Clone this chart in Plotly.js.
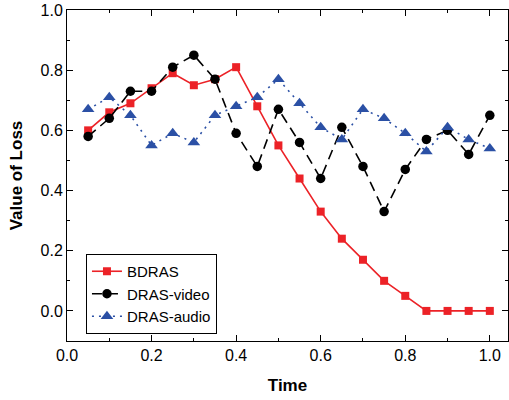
<!DOCTYPE html>
<html>
<head>
<meta charset="utf-8">
<script src="https://cdn.plot.ly/plotly-3.0.1.min.js"></script>
<style>html,body{margin:0;padding:0;background:#fff;}#chart{width:509px;height:400px;}</style>
</head>
<body>
<div id="chart"></div>
<script>
var time = [0.05,0.10,0.15,0.20,0.25,0.30,0.35,0.40,0.45,0.50,0.55,0.60,0.65,0.70,0.75,0.80,0.85,0.90,0.95,1.00];
var bdras = [0.60,0.66,0.69,0.74,0.79,0.75,0.77,0.81,0.68,0.55,0.44,0.33,0.24,0.17,0.10,0.05,0.00,0.00,0.00,0.00];
var drasVideo = [0.58,0.64,0.73,0.73,0.81,0.85,0.77,0.59,0.48,0.67,0.56,0.44,0.61,0.48,0.33,0.47,0.57,0.60,0.52,0.65];
var drasAudio = [0.67,0.71,0.65,0.55,0.59,0.56,0.65,0.68,0.71,0.77,0.69,0.61,0.57,0.67,0.64,0.59,0.53,0.61,0.57,0.54];
var seriesNames = ['BDRAS','DRAS-video','DRAS-audio'];

var traces = [
  {x: time, y: bdras, name: seriesNames[0], type: 'scatter', mode: 'lines+markers',
   line: {color: '#ec2227', width: 1.6, dash: 'solid'},
   marker: {symbol: 'square', size: 8, color: '#ec2227'}},
  {x: time, y: drasVideo, name: seriesNames[1], type: 'scatter', mode: 'lines+markers',
   line: {color: '#000000', width: 1.6, dash: '10px,6px'},
   marker: {symbol: 'circle', size: 9.5, color: '#000000'}},
  {x: time, y: drasAudio, name: seriesNames[2], type: 'scatter', mode: 'lines+markers',
   line: {color: '#2b50a5', width: 1.6, dash: '2px,5px'},
   marker: {symbol: 'triangle-up', size: 11, color: '#2b50a5'}}
];

var axisCommon = {
  showline: true, linecolor: '#000', linewidth: 1, mirror: 'ticks',
  ticks: 'inside', ticklen: 6, tickwidth: 1, tickcolor: '#000',
  showgrid: false, zeroline: false,
  tickfont: {family: 'Liberation Sans, Arial, sans-serif', size: 16, color: '#000'},
  tickformat: '.1f', dtick: 0.2, tick0: 0,
  minor: {ticks: 'inside', ticklen: 3, dtick: 0.1, tick0: 0, tickcolor: '#000', showgrid: false}
};

var layout = {
  width: 509, height: 400,
  margin: {l: 67, r: 1, t: 10, b: 59},
  paper_bgcolor: '#fff', plot_bgcolor: '#fff',
  showlegend: true,
  legend: {x: 0.043, y: 0.142, xanchor: 'left', yanchor: 'middle',
    bgcolor: '#fff', bordercolor: '#000', borderwidth: 1,
    font: {family: 'Liberation Sans, Arial, sans-serif', size: 15, color: '#000'},
    tracegroupgap: 0},
  xaxis: Object.assign({}, axisCommon, {
    range: [0, 1.043],
    title: {text: '<b>Time</b>', font: {family: 'Liberation Sans, Arial, sans-serif', size: 17, color: '#000'}, standoff: 15}
  }),
  yaxis: Object.assign({}, axisCommon, {
    range: [-0.1, 1.0],
    title: {text: '<b>Value of Loss</b>', font: {family: 'Liberation Sans, Arial, sans-serif', size: 17, color: '#000'}, standoff: 13}
  })
};

Plotly.newPlot('chart', traces, layout, {displayModeBar: false, staticPlot: true});
</script>
</body>
</html>
